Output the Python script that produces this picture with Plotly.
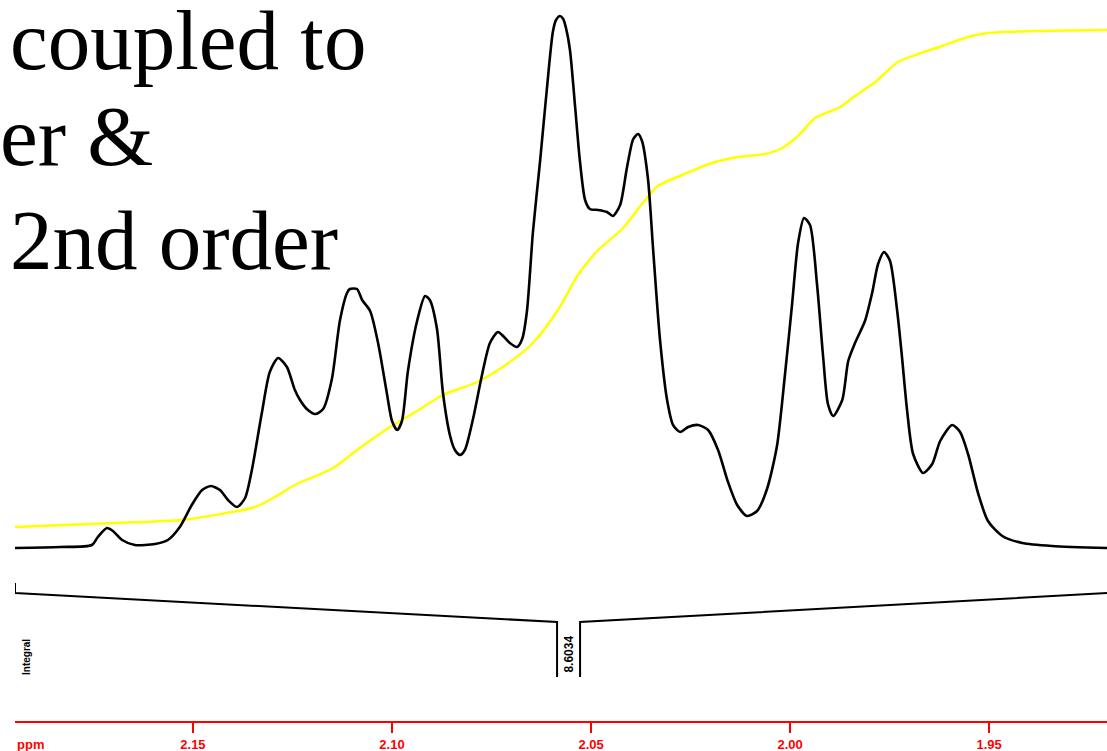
import plotly.graph_objects as go

# 1H NMR trace, chemical shift (ppm) vs. intensity (arbitrary units)
shift_ppm = [
    2.1947, 2.1834, 2.1754, 2.1739, 2.1716, 2.1701, 2.1678, 2.1646, 2.1595, 2.1563,
    2.1533, 2.1503, 2.1477, 2.1455, 2.1432, 2.1412, 2.1389, 2.1369, 2.1352, 2.1327,
    2.1307, 2.1286, 2.1264, 2.1244, 2.1231, 2.1214, 2.1193, 2.1173, 2.1151, 2.1131,
    2.1113, 2.1106, 2.1088, 2.1075, 2.1055, 2.1035, 2.1013, 2.1000, 2.0987, 2.0975,
    2.0960, 2.0937, 2.0917, 2.0905, 2.0887, 2.0872, 2.0854, 2.0842, 2.0829, 2.0817,
    2.0796, 2.0774, 2.0754, 2.0734, 2.0721, 2.0704, 2.0686, 2.0673, 2.0661, 2.0646,
    2.0628, 2.0611, 2.0596, 2.0588, 2.0578, 2.0570, 2.0563, 2.0553, 2.0540, 2.0528,
    2.0515, 2.0503, 2.0482, 2.0460, 2.0445, 2.0427, 2.0410, 2.0394, 2.0382, 2.0372,
    2.0357, 2.0344, 2.0327, 2.0309, 2.0294, 2.0276, 2.0256, 2.0231, 2.0206, 2.0181,
    2.0156, 2.0133, 2.0108, 2.0083, 2.0058, 2.0033, 2.0013, 1.9995, 1.9980, 1.9965,
    1.9950, 1.9932, 1.9917, 1.9905, 1.9892, 1.9869, 1.9854, 1.9837, 1.9812, 1.9794,
    1.9779, 1.9764, 1.9749, 1.9731, 1.9719, 1.9706, 1.9691, 1.9666, 1.9643, 1.9623,
    1.9593, 1.9573, 1.9553, 1.9528, 1.9503, 1.9467, 1.9417, 1.9342, 1.9204,
]
intensity = [
    0, 1, 3, 11, 20, 17, 8, 3, 4, 8,
    21, 43, 58, 62, 58, 48, 41, 50, 78, 135,
    176, 190, 181, 158, 148, 139, 134, 139, 169, 227,
    255, 259, 259, 248, 237, 205, 155, 127, 118, 127,
    177, 227, 252, 248, 219, 155, 112, 98, 93, 98,
    130, 173, 205, 216, 212, 205, 201, 209, 237, 316,
    387, 459, 516, 528, 532, 529, 520, 498, 441, 387,
    348, 339, 338, 336, 332, 343, 380, 409, 414, 407,
    369, 298, 209, 148, 123, 116, 121, 123, 118, 98,
    66, 43, 32, 37, 59, 102, 173, 244, 305, 330,
    323, 262, 191, 144, 132, 148, 187, 205, 227, 255,
    284, 296, 287, 237, 191, 137, 94, 75, 84, 107,
    123, 116, 94, 55, 27, 12, 5, 2, 0,
]

# Running integral trace
integral_ppm = [
    2.1947, 2.1696, 2.1528, 2.1445, 2.1344, 2.1294, 2.1244, 2.1148, 2.1088, 2.1005,
    2.0937, 2.0872, 2.0786, 2.0711, 2.0646, 2.0585, 2.0553, 2.0533, 2.0482, 2.0422,
    2.0372, 2.0332, 2.0271, 2.0196, 2.0131, 2.0063, 2.0020, 1.9980, 1.9937, 1.9874,
    1.9837, 1.9786, 1.9729, 1.9678, 1.9618, 1.9553, 1.9503, 1.9384, 1.9204,
]
integral_level = [
    21, 25, 28, 33, 41, 51, 63, 80, 98, 121,
    137, 153, 166, 184, 205, 237, 259, 273, 298, 319,
    344, 362, 373, 385, 391, 394, 400, 412, 430, 441,
    452, 466, 486, 494, 502, 511, 515, 517, 518,
]

# Integration region and its value
region_start = 2.1947
region_end = 1.9204
region_value = 8.6034

x_ticks = [2.15, 2.10, 2.05, 2.00, 1.95]
title_lines = ["coupled to", "er &", "2nd order"]

# Bracket geometry (intensity units below the baseline)
BR_TOP, BR_END, BR_MID, BR_LOW = -35, -45, -74, -129
NOTCH = 0.00578
mid = (2.0585 + 2.0528) / 2

fig = go.Figure()

fig.add_trace(go.Scatter(
    x=integral_ppm, y=integral_level, mode="lines",
    line=dict(color="#ffff00", width=2.5, shape="spline", smoothing=0.8),
    hoverinfo="skip", showlegend=False,
))
fig.add_trace(go.Scatter(
    x=shift_ppm, y=intensity, mode="lines",
    line=dict(color="black", width=2.6, shape="spline", smoothing=0.7),
    showlegend=False,
))

# Integral bracket
fig.add_trace(go.Scatter(
    x=[region_start, region_start, mid + NOTCH / 2, mid + NOTCH / 2, None,
       mid - NOTCH / 2, mid - NOTCH / 2, region_end],
    y=[BR_TOP, BR_END, BR_MID, BR_LOW, None, BR_LOW, BR_MID, BR_END],
    mode="lines", line=dict(color="black", width=2),
    hoverinfo="skip", showlegend=False,
))

PLOT_W, PLOT_H, LEFT = 1092, 721, 15


def px_x(px):
    return (px - LEFT) / PLOT_W


def px_y(px):
    return 1 - px / PLOT_H


serif = dict(family="Liberation Serif, Times New Roman, serif", size=85, color="black")
for text, xp, yp in zip(title_lines, [8, -2, 8], [40, 136, 240]):
    fig.add_annotation(
        text=text, xref="paper", yref="paper", x=px_x(xp), y=px_y(yp),
        xanchor="left", yanchor="middle", showarrow=False, font=serif,
    )

fig.add_annotation(
    text="<b>" + f"{region_value:.4f}" + "</b>", xref="x", yref="y",
    x=mid, y=-106, textangle=-90, showarrow=False,
    font=dict(family="Liberation Sans, Arial, sans-serif", size=12, color="black"),
)
fig.add_annotation(
    text="<b>Integral</b>", xref="paper", yref="y",
    x=px_x(26), y=-109, xanchor="center", textangle=-90, showarrow=False,
    font=dict(family="Liberation Sans, Arial, sans-serif", size=10, color="black"),
)
fig.add_annotation(
    text="<b>ppm</b>", xref="paper", yref="paper",
    x=px_x(15), y=px_y(744), xanchor="left", yanchor="middle", showarrow=False,
    font=dict(family="Liberation Sans, Arial, sans-serif", size=13, color="red"),
)

fig.update_layout(
    width=1107, height=751,
    margin=dict(l=LEFT, r=0, t=0, b=30),
    paper_bgcolor="white", plot_bgcolor="white",
    xaxis=dict(
        range=[region_start, region_end], tickvals=x_ticks, tickformat=".2f",
        showline=True, linecolor="red", linewidth=2,
        ticks="outside", ticklen=10, tickwidth=2, tickcolor="red",
        tickfont=dict(family="Liberation Sans, Arial, sans-serif", size=13,
                      color="red", weight="bold"),
        showgrid=False, zeroline=False,
    ),
    yaxis=dict(range=[-173, 548], visible=False, showgrid=False, zeroline=False),
)

fig.write_html("out.html")
